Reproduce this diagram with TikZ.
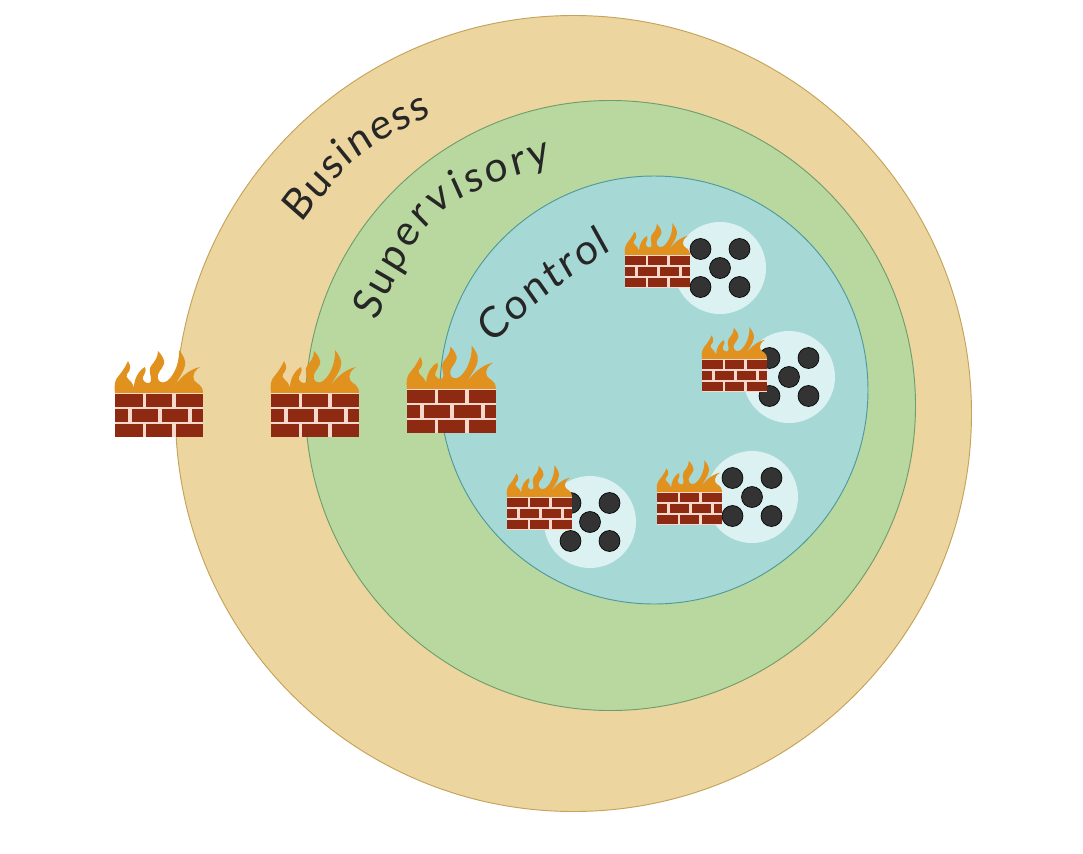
\documentclass[tikz,border=0pt]{standalone}
\usepackage{xcolor}
\usepackage{fontspec}
\usetikzlibrary{decorations.text}
\newfontfamily\handfont[FakeSlant=0.08]{Lato}
\definecolor{businessfill}{HTML}{EDD59F}
\definecolor{businessedge}{HTML}{C4A35A}
\definecolor{supervisoryfill}{HTML}{B9D8A0}
\definecolor{supervisoryedge}{HTML}{6F9E6A}
\definecolor{controlfill}{HTML}{A6D8D6}
\definecolor{controledge}{HTML}{4F9A9A}
\definecolor{discfill}{HTML}{DCF1F1}
\definecolor{flamefill}{HTML}{E0911E}
\definecolor{brickfill}{HTML}{8E2A12}
\definecolor{mortarfill}{HTML}{F6D9CC}
\definecolor{dotfill}{HTML}{333333}
\tikzset{
    zone/.style={circle, inner sep=0pt, outer sep=0pt, line width=0.7pt},
    zonelabel/.style={decorate, decoration={text along path, text align=fit to path, text color=black!85, text={|\handfont\fontsize{31}{31}\selectfont|#1}}},
    pics/firewall/.style={code={
        % flames, base at y=0, then the wall below them
        \fill[flamefill] (0,0) .. controls (-1,-8) and (0,-12) .. (2,-15)
            .. controls (5,-19) and (9,-23) .. (13,-32)
            .. controls (16,-27) and (16,-23) .. (12,-19)
            .. controls (9,-15) and (17,-13) .. (19,-6)
            .. controls (19,-14) and (24,-23) .. (30,-26)
            .. controls (32,-22) and (29,-19) .. (28,-16)
            .. controls (27,-13) and (30,-10) .. (33,-10)
            .. controls (40,-10) and (32,-22) .. (36,-27)
            .. controls (39,-31) and (43,-35) .. (43,-42)
            .. controls (47,-38) and (50,-33) .. (49,-29)
            .. controls (47,-23) and (41,-20) .. (43,-14)
            .. controls (44,-11) and (47,-10) .. (50,-11)
            .. controls (56,-13) and (65,-27) .. (64,-43)
            .. controls (68,-38) and (71,-33) .. (70,-28)
            .. controls (69,-20) and (61,-12) .. (58,-4)
            .. controls (62,-13) and (74,-24) .. (85,-26)
            .. controls (80,-23) and (77,-18) .. (79,-13)
            .. controls (81,-9) and (88,-9) .. (88,0) -- cycle;
        \fill[mortarfill] (0,0) rectangle (88,44);
        \foreach \xa/\xb in {0/28, 31/57, 61/88} {
            \fill[brickfill] (\xa,1) rectangle (\xb,13.5);
            \fill[brickfill] (\xa,31) rectangle (\xb,43.5);
        }
        \foreach \xa/\xb in {0/13, 17/43, 47/73, 77/88}
            \fill[brickfill] (\xa,16) rectangle (\xb,28.5);
    }},
    pics/hostgroup/.style={code={
        \fill[discfill] (0,0) circle (46);
        \foreach \dx/\dy in {-19.5/-19, 19.5/-19, 0/0, -19.5/19, 19.5/19}
            \filldraw[fill=dotfill, draw=black, line width=0.5pt] (\dx,\dy) circle (10.5);
    }}
}
\begin{document}
\begin{tikzpicture}[x=0.75pt, y=-0.75pt]
    \useasboundingbox (0,0) rectangle (1083,854);

    \node[zone, minimum size=597pt, fill=businessfill, draw=businessedge] (business) at (573.5,413.5) {};
    \node[zone, minimum size=457.5pt, fill=supervisoryfill, draw=supervisoryedge] (supervisory) at (610.5,405.5) {};
    \node[zone, minimum size=321pt, fill=controlfill, draw=controledge] (control) at (654,390) {};

    % zone names follow the rings
    \path[zonelabel=Business] (302,224) .. controls (355,153) .. (431,115);
    \path[zonelabel=Supervisory] (376,322) .. controls (430,205) .. (552,163);
    \path[zonelabel=Control] (493,345) .. controls (546,294) .. (612,250);

    % host groups
    \pic (hostsa) at (720,268) {hostgroup};
    \pic (hostsb) at (789,377) {hostgroup};
    \pic (hostsc) at (752,497) {hostgroup};
    \pic (hostsd) at (590,522) {hostgroup};

    % firewalls
    \pic (wallbusiness) at (115,393) {firewall};
    \pic (wallsupervisory) at (271,393) {firewall};
    \pic[scale=1.01] (wallcontrol) at (407,389) {firewall};
    \pic[scale=0.74] (walla) at (625,255) {firewall};
    \pic[scale=0.74] (wallb) at (702,359) {firewall};
    \pic[scale=0.74] (wallc) at (657,492) {firewall};
    \pic[scale=0.74] (walld) at (507,497) {firewall};
\end{tikzpicture}
\end{document}
